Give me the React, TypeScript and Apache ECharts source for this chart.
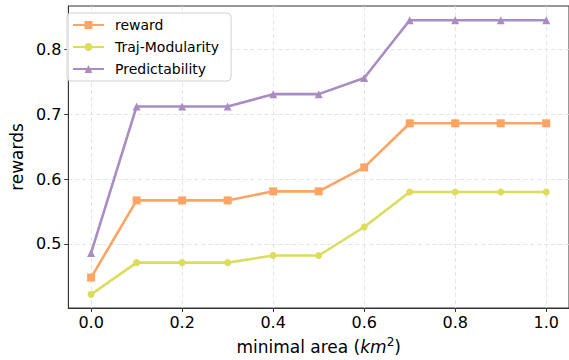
import React, { useEffect, useRef } from "react";
import * as echarts from "echarts";

const xValues = [0.0, 0.1, 0.2, 0.3, 0.4, 0.5, 0.6, 0.7, 0.8, 0.9, 1.0];
const rewardValues = [0.448, 0.567, 0.567, 0.567, 0.581, 0.581, 0.618, 0.686, 0.686, 0.686, 0.686];
const trajModularityValues = [0.422, 0.471, 0.471, 0.471, 0.482, 0.482, 0.526, 0.580, 0.580, 0.580, 0.580];
const predictabilityValues = [0.486, 0.712, 0.712, 0.712, 0.731, 0.731, 0.756, 0.845, 0.845, 0.845, 0.845];
const xTicks = [0.0, 0.2, 0.4, 0.6, 0.8, 1.0];
const yTicks = [0.5, 0.6, 0.7, 0.8];

const FONT = "DejaVu Sans";

export default function App() {
  const ref = useRef<HTMLDivElement>(null);
  useEffect(() => {
    if (!ref.current) return;
    const chart = echarts.init(ref.current, null, { renderer: "svg" });
    const pair = (vals: number[]) => xValues.map((x, i) => [x, vals[i]]);
    const mkSeries = (name: string, vals: number[], color: string, symbol: string, size: number) => ({
      name,
      type: "line",
      data: pair(vals),
      symbol,
      symbolSize: size,
      showSymbol: true,
      lineStyle: { width: 2.6, color },
      itemStyle: { color },
      emphasis: { disabled: true },
    });
    chart.setOption({
      animation: false,
      grid: {
        left: 59,
        top: 6,
        width: 512.6,
        height: 306,
        show: true,
        borderColor: "#333",
        borderWidth: 1,
      },
      legend: {
        orient: "vertical",
        left: 67,
        top: 13,
        itemWidth: 31,
        itemHeight: 10,
        itemGap: 8,
        padding: [5, 12, 5, 5],
        backgroundColor: "rgba(255,255,255,0.85)",
        borderColor: "#d0d0d0",
        borderWidth: 1,
        borderRadius: 4,
        textStyle: { fontFamily: FONT, fontSize: 14, color: "#000", padding: [0, 0, 0, 6] },
        data: ["reward", "Traj-Modularity", "Predictability"],
      },
      xAxis: {
        type: "value",
        min: -0.05,
        max: 1.05,
        name: "minimal area ({i|km}{s|2})",
        nameLocation: "middle",
        nameGap: 28,
        nameTextStyle: {
          fontFamily: FONT,
          fontSize: 17,
          color: "#000",
          rich: {
            i: { fontFamily: FONT, fontSize: 17, fontStyle: "italic", color: "#000" },
            s: { fontFamily: FONT, fontSize: 12, color: "#000", padding: [0, 0, 9, 0] },
          },
        },
        axisLine: { show: true, onZero: false, lineStyle: { color: "#333", width: 1 } },
        axisTick: { show: true, inside: false, length: 4, customValues: xTicks, lineStyle: { color: "#333" } },
        axisLabel: {
          customValues: xTicks,
          fontFamily: FONT,
          fontSize: 16,
          color: "#000",
          margin: 6,
          formatter: (v: number) => v.toFixed(1),
        },
        splitLine: { show: true, lineStyle: { color: "#dddddd", type: [4, 3], width: 0.8 } },
      },
      yAxis: {
        type: "value",
        min: 0.401,
        max: 0.867,
        name: "rewards",
        nameLocation: "middle",
        nameGap: 36,
        nameTextStyle: { fontFamily: FONT, fontSize: 17, color: "#000" },
        axisLine: { show: true, onZero: false, lineStyle: { color: "#333", width: 1 } },
        axisTick: { show: true, inside: false, length: 4, customValues: yTicks, lineStyle: { color: "#333" } },
        axisLabel: {
          customValues: yTicks,
          fontFamily: FONT,
          fontSize: 16,
          color: "#000",
          margin: 7,
          formatter: (v: number) => v.toFixed(1),
        },
        splitLine: { show: true, lineStyle: { color: "#dddddd", type: [4, 3], width: 0.8 } },
      },
      series: [
        mkSeries("reward", rewardValues, "#ffa463", "rect", 8),
        mkSeries("Traj-Modularity", trajModularityValues, "#dcdc5e", "circle", 7),
        mkSeries("Predictability", predictabilityValues, "#a98cc2", "triangle", 8),
      ],
    });
    return () => chart.dispose();
  }, []);
  return (
    <div
      ref={ref}
      style={{ position: "fixed", left: 0, top: 0, width: 569, height: 360, background: "#fff" }}
    />
  );
}
